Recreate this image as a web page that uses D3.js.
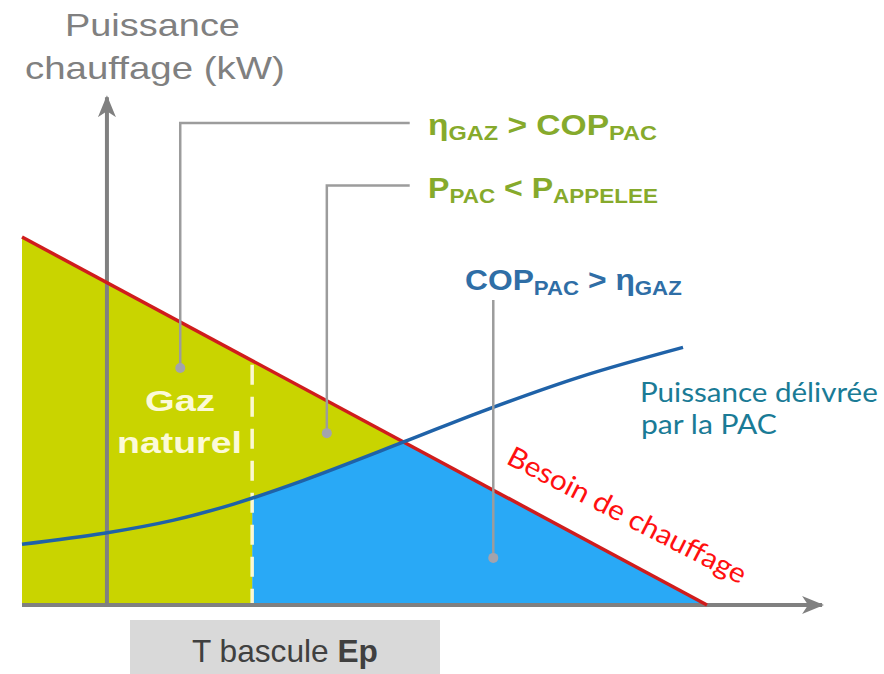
<!DOCTYPE html>
<html><head><meta charset="utf-8">
<script src="https://cdn.jsdelivr.net/npm/d3@7"></script>
<style>html,body{margin:0;padding:0;background:#fff;}svg{display:block;}</style>
</head><body>
<script>
// ---- data (schematic units: x = outdoor temperature axis 0..100, y = power 0..100)
const besoinX = [0, 100];          // heating need line (Besoin de chauffage)
const besoinY = [100, 0];
const pacX = [0, 12, 22, 31, 41, 56, 67, 81.5, 96.5];   // heat pump delivered power
const pacY = [16.5, 19.5, 23, 27.5, 33.8, 44.5, 52.5, 62, 70];
const basculeX = 33.6;             // switching temperature
const axisYPos = 12.4;             // position of the vertical axis
const xAxisEnd = 116.8;
const yAxisTop = 138;
// leader lines
const leaderX = [23.1, 44.5, 68.8];
const leaderDotY = [64.4, 46.7, 12.8];
const leaderTopY = [131, 114, 82.9];
const leaderEndX = 56.6;

const W = 884, H = 674;
const svg = d3.select("body").append("svg").attr("width", W).attr("height", H);
const x = d3.scaleLinear().domain([0, 100]).range([22, 707]);
const y = d3.scaleLinear().domain([0, 100]).range([605, 237]);

const defs = svg.append("defs");
defs.append("clipPath").attr("id", "under").append("path")
  .attr("d", d3.line()([[x(besoinX[0]), y(0)], [x(besoinX[0]), y(besoinY[0])], [x(besoinX[1]), y(besoinY[1])]]) + "Z");
defs.append("marker").attr("id", "arrH").attr("markerUnits", "userSpaceOnUse")
  .attr("viewBox", "0 -10 22 20").attr("refX", 20).attr("refY", 0)
  .attr("markerWidth", 22).attr("markerHeight", 20).attr("orient", "auto")
  .append("path").attr("d", "M0,-9 L22,0 L0,9 L6,0 Z").attr("fill", "#808080");

const pac = pacX.map((v, i) => [v, pacY[i]]);
const crv = d3.curveCatmullRom.alpha(0.5);

// fills
const g = svg.append("g").attr("clip-path", "url(#under)");
g.append("rect").attr("x", x(basculeX)).attr("y", y(100)).attr("width", x(100) - x(basculeX)).attr("height", y(0) - y(100)).attr("fill", "#29a9f6");
g.append("rect").attr("x", x(0)).attr("y", y(100)).attr("width", x(basculeX) - x(0)).attr("height", y(0) - y(100)).attr("fill", "#c9d400");
g.append("path").datum(pac)
  .attr("d", d3.area().x(d => x(d[0])).y0(d => y(d[1])).y1(y(100)).curve(crv))
  .attr("fill", "#c9d400");

// dashed bascule line
svg.append("line").attr("x1", x(basculeX)).attr("x2", x(basculeX))
  .attr("y1", y(100 - basculeX) + 4).attr("y2", y(0))
  .attr("stroke", "#fbf8d2").attr("stroke-width", 3.5).attr("stroke-dasharray", "20,12");

// axes
svg.append("line").attr("x1", x(0)).attr("x2", x(xAxisEnd)).attr("y1", y(0)).attr("y2", y(0))
  .attr("stroke", "#808080").attr("stroke-width", 4).attr("marker-end", "url(#arrH)");
svg.append("line").attr("x1", x(axisYPos)).attr("x2", x(axisYPos)).attr("y1", y(0) + 2).attr("y2", y(yAxisTop))
  .attr("stroke", "#808080").attr("stroke-width", 4).attr("marker-end", "url(#arrH)");

// red need line
svg.append("line").attr("x1", x(besoinX[0])).attr("y1", y(besoinY[0])).attr("x2", x(besoinX[1])).attr("y2", y(besoinY[1]))
  .attr("stroke", "#d01c1c").attr("stroke-width", 3.5);

// heat pump curve
svg.append("path").datum(pac)
  .attr("d", d3.line().x(d => x(d[0])).y(d => y(d[1])).curve(crv))
  .attr("fill", "none").attr("stroke", "#1f62a8").attr("stroke-width", 3.5);

// leader lines
leaderX.forEach((lx, i) => {
  const pts = i < 2
    ? [[x(lx), y(leaderDotY[i])], [x(lx), y(leaderTopY[i])], [x(leaderEndX), y(leaderTopY[i])]]
    : [[x(lx), y(leaderDotY[i])], [x(lx), y(leaderTopY[i])]];
  svg.append("path").attr("d", d3.line()(pts)).attr("fill", "none")
    .attr("stroke", "#9c9c9c").attr("stroke-width", 2.5);
  svg.append("circle").attr("cx", x(lx)).attr("cy", y(leaderDotY[i])).attr("r", 5).attr("fill", "#a3a3ad");
});

// stretch a start-anchored text horizontally to a target width
function fit(sel, x0, width) {
  const w = sel.node().getBBox().width;
  const s = width / w;
  sel.attr("transform", `translate(${x0},0) scale(${s},1) translate(${-x0},0)`);
  return sel;
}

// texts
const sans = "'Liberation Sans', Arial, sans-serif";
fit(svg.append("text").attr("x", 65).attr("y", 36)
  .attr("font-family", sans).attr("font-size", 31).attr("fill", "#808080").text("Puissance"), 65, 175);
fit(svg.append("text").attr("x", 25).attr("y", 79)
  .attr("font-family", sans).attr("font-size", 31).attr("fill", "#808080").text("chauffage (kW)"), 25, 260);

function formula(tx, ty, parts, color, width) {
  const t = svg.append("text").attr("x", tx).attr("y", ty).attr("font-family", sans)
    .attr("font-weight", "bold").attr("font-size", 30).attr("fill", color);
  parts.forEach(p => {
    t.append("tspan").attr("font-size", p[1] ? 21 : 30).attr("dy", p[2] || 0).text(p[0]);
  });
  fit(t, tx, width);
}
formula(428, 135, [["η", 0], ["GAZ", 1, 5], [" > COP", 0, -5], ["PAC", 1, 5]], "#86aa2c", 229);
formula(428, 198, [["P", 0], ["PAC", 1, 5], [" < P", 0, -5], ["APPELEE", 1, 5]], "#86aa2c", 230);
formula(465, 290, [["COP", 0], ["PAC", 1, 5], [" > η", 0, -5], ["GAZ", 1, 5]], "#2f6ea6", 217);

fit(svg.append("text").attr("x", 145).attr("y", 411)
  .attr("font-family", sans).attr("font-weight", "bold").attr("font-size", 30).attr("fill", "#fcfad8").text("Gaz"), 145, 70);
fit(svg.append("text").attr("x", 117).attr("y", 453)
  .attr("font-family", sans).attr("font-weight", "bold").attr("font-size", 30).attr("fill", "#fcfad8").text("naturel"), 117, 125);

const lato = "Lato, 'Open Sans', sans-serif";
fit(svg.append("text").attr("x", 640).attr("y", 402).attr("font-family", lato).attr("font-size", 27)
  .attr("fill", "#1a7b96").text("Puissance délivrée"), 640, 238);
fit(svg.append("text").attr("x", 641).attr("y", 434).attr("font-family", lato).attr("font-size", 27)
  .attr("fill", "#1a7b96").text("par la PAC"), 641, 136);

const red = svg.append("g").attr("transform", "translate(505,463) rotate(27.3)");
const rt = red.append("text").attr("x", 0).attr("y", 0)
  .attr("font-family", lato).attr("font-size", 28).attr("fill", "#ff1010").text("Besoin de chauffage");
fit(rt, 0, 265);

// bottom box
svg.append("rect").attr("x", 130).attr("y", 620).attr("width", 310).attr("height", 54).attr("fill", "#d9d9d9");
const bt = svg.append("text").attr("x", 192).attr("y", 662)
  .attr("font-family", sans).attr("font-size", 32).attr("fill", "#404040");
bt.append("tspan").text("T bascule ");
bt.append("tspan").attr("font-weight", "bold").text("Ep");
fit(bt, 192, 186);
</script>
</body></html>
